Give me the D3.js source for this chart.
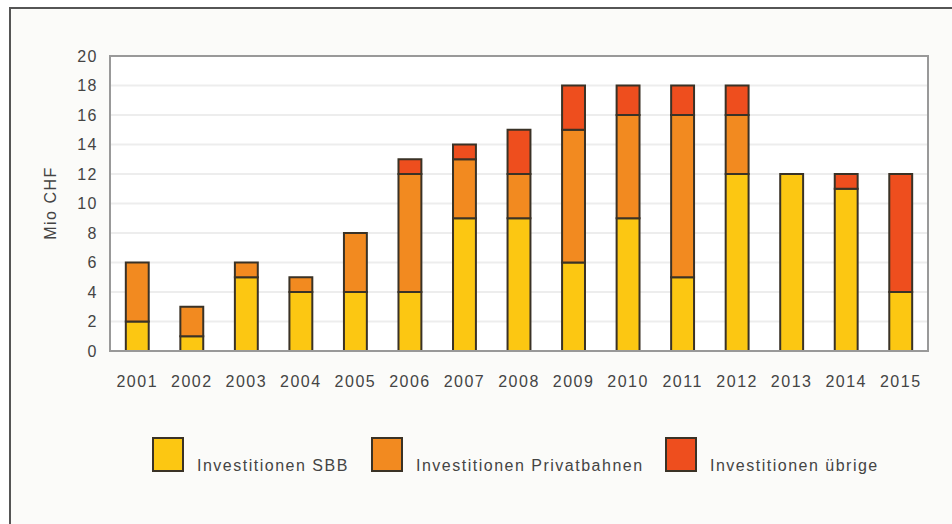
<!DOCTYPE html>
<html>
<head>
<meta charset="utf-8">
<script src="https://cdn.jsdelivr.net/npm/d3@7"></script>
<style>
body { margin: 0; background: #fff; }
text { font-family: "Liberation Sans", Arial, sans-serif; fill: #444; letter-spacing: 1.5px; }
</style>
</head>
<body>
<svg width="952" height="524"></svg>
<script>
var years = ["2001","2002","2003","2004","2005","2006","2007","2008","2009","2010","2011","2012","2013","2014","2015"];
var sbb     = [2, 1, 5, 4, 4, 4, 9, 9, 6, 9, 5, 12, 12, 11, 4];
var privat  = [4, 2, 1, 1, 4, 8, 4, 3, 9, 7, 11, 4, 0, 0, 0];
var uebrige = [0, 0, 0, 0, 0, 1, 1, 3, 3, 2, 2, 2, 0, 1, 8];
var seriesNames = ["Investitionen SBB", "Investitionen Privatbahnen", "Investitionen übrige"];
var yTicks = [0, 2, 4, 6, 8, 10, 12, 14, 16, 18, 20];

var colors = ["#fcc712", "#f28a20", "#ee4e1e"];

var svg = d3.select("svg");

// outer frame
svg.append("rect")
    .attr("x", 10).attr("y", 8)
    .attr("width", 960).attr("height", 540)
    .attr("fill", "#fbfbf9")
    .attr("stroke", "#555")
    .attr("stroke-width", 2);

var plotL = 110, plotT = 56, plotR = 928, plotB = 351;

var x = d3.scaleBand().domain(years).range([plotL, plotR]).paddingInner(0.58).paddingOuter(0.29);
var y = d3.scaleLinear().domain([0, 20]).range([plotB, plotT]);

var table = years.map(function(yr, i) {
    return { year: yr, sbb: sbb[i], privat: privat[i], uebrige: uebrige[i] };
});
var stack = d3.stack().keys(["sbb", "privat", "uebrige"])(table);

// plot background + grid
svg.append("rect")
    .attr("x", plotL).attr("y", plotT)
    .attr("width", plotR - plotL).attr("height", plotB - plotT)
    .attr("fill", "#fff");

svg.append("g")
    .selectAll("line")
    .data(yTicks.slice(1, -1))
    .enter().append("line")
    .attr("x1", plotL).attr("x2", plotR)
    .attr("y1", function(d) { return y(d); })
    .attr("y2", function(d) { return y(d); })
    .attr("stroke", "#ededed")
    .attr("stroke-width", 2);

// bars
svg.append("g")
    .selectAll("g")
    .data(stack)
    .enter().append("g")
    .attr("fill", function(d, i) { return colors[i]; })
    .selectAll("rect")
    .data(function(d) { return d.filter(function(p) { return p[1] > p[0]; }); })
    .enter().append("rect")
    .attr("x", function(d) { return x(d.data.year); })
    .attr("y", function(d) { return y(d[1]); })
    .attr("width", x.bandwidth())
    .attr("height", function(d) { return y(d[0]) - y(d[1]); })
    .attr("stroke", "#3a3226")
    .attr("stroke-width", 2);

// plot border
svg.append("rect")
    .attr("x", plotL).attr("y", plotT)
    .attr("width", plotR - plotL).attr("height", plotB - plotT)
    .attr("fill", "none")
    .attr("stroke", "#999")
    .attr("stroke-width", 2);

// y axis
var yAxis = svg.append("g")
    .attr("transform", "translate(" + plotL + ",0)")
    .call(d3.axisLeft(y).tickValues(yTicks).tickSize(0).tickPadding(12));
yAxis.select(".domain").remove();
yAxis.selectAll("text").style("font-size", "16px").attr("fill", "#444");

// x axis
var xAxis = svg.append("g")
    .attr("transform", "translate(0," + plotB + ")")
    .call(d3.axisBottom(x).tickSize(0).tickPadding(25));
xAxis.select(".domain").remove();
xAxis.selectAll("text").style("font-size", "16px").attr("fill", "#444");

svg.append("text")
    .attr("transform", "translate(56,203) rotate(-90)")
    .attr("text-anchor", "middle")
    .style("font-size", "16px")
    .text("Mio CHF");

// legend
var legendX = [153, 372, 666];
var legend = svg.append("g")
    .selectAll("g")
    .data(seriesNames)
    .enter().append("g")
    .attr("transform", function(d, i) { return "translate(" + legendX[i] + ",438)"; });

legend.append("rect")
    .attr("width", 30).attr("height", 33)
    .attr("fill", function(d, i) { return colors[i]; })
    .attr("stroke", "#3a3226")
    .attr("stroke-width", 2);

legend.append("text")
    .attr("x", 44).attr("y", 33)
    .style("font-size", "16px")
    .text(function(d) { return d; });
</script>
</body>
</html>
